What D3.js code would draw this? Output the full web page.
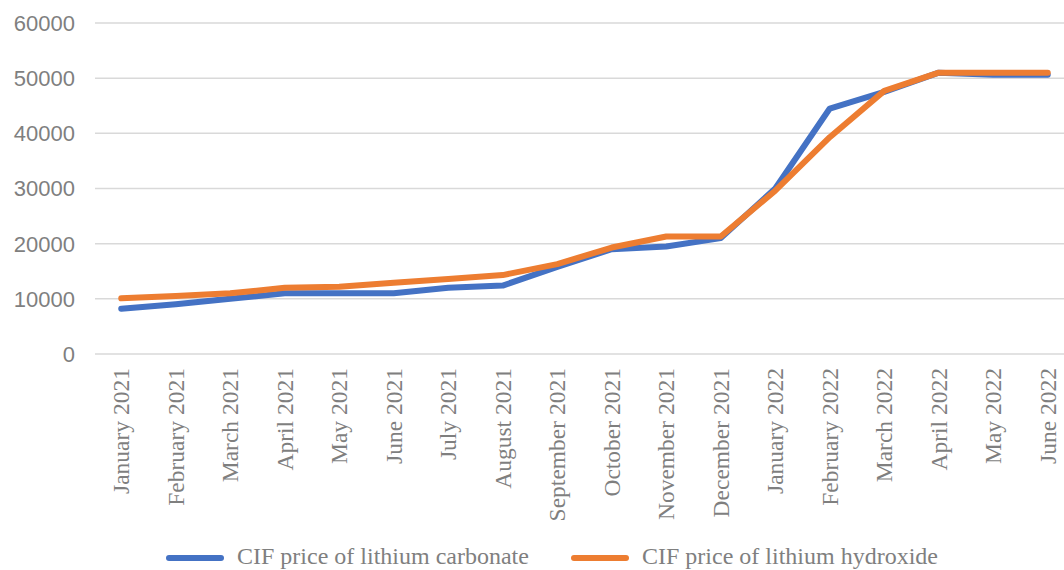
<!DOCTYPE html>
<html><head><meta charset="utf-8">
<script src="https://cdn.jsdelivr.net/npm/d3@7"></script>
<style>body{margin:0;background:#fff}svg{display:block}</style>
</head><body>
<svg id="chart" width="1064" height="570"></svg>
<script>
const categories = ["January 2021","February 2021","March 2021","April 2021","May 2021","June 2021","July 2021","August 2021","September 2021","October 2021","November 2021","December 2021","January 2022","February 2022","March 2022","April 2022","May 2022","June 2022"];
const carbonate = [8200,9000,10000,11000,11000,11000,12000,12400,15800,19000,19500,21000,30000,44500,47500,51000,50600,50600];
const hydroxide = [10100,10500,11000,12000,12200,12900,13600,14300,16300,19300,21300,21300,29600,39300,47700,51000,51000,51000];
const yTicks = [0,10000,20000,30000,40000,50000,60000];
const seriesNames = ["CIF price of lithium carbonate","CIF price of lithium hydroxide"];
const seriesColors = ["#4472C4","#ED7D31"];

const svg = d3.select("#chart");
const x = d3.scaleBand().domain(categories).range([94, 1075]);
const y = d3.scaleLinear().domain([0,60000]).range([354, 23]);

// gridlines
svg.append("g").selectAll("line").data(yTicks).join("line")
  .attr("x1",95).attr("x2",1064)
  .attr("y1",d=>y(d)).attr("y2",d=>y(d))
  .attr("stroke","#d9d9d9").attr("stroke-width",1.5);

// y labels
svg.append("g").selectAll("text").data(yTicks).join("text")
  .attr("x",75).attr("y",d=>y(d)).attr("dy","0.36em")
  .attr("text-anchor","end")
  .attr("font-family","'Liberation Sans', Arial, sans-serif")
  .attr("font-size",22).attr("fill","#7f7f7f")
  .text(d=>d);

// x labels
svg.append("g").selectAll("text").data(categories).join("text")
  .attr("transform",d=>`translate(${x(d)+x.bandwidth()/2+8},368) rotate(-90)`)
  .attr("text-anchor","end")
  .attr("font-family","'Liberation Serif', 'Times New Roman', serif")
  .attr("font-size",23.5).attr("fill","#7f7f7f")
  .text(d=>d);

const line = d3.line().x((d,i)=>x(categories[i])+x.bandwidth()/2).y(d=>y(d));
[carbonate, hydroxide].forEach((s,k)=>{
  svg.append("path").datum(s).attr("d",line)
    .attr("fill","none").attr("stroke",seriesColors[k]).attr("stroke-width",6)
    .attr("stroke-linejoin","round").attr("stroke-linecap","round");
});

// legend
const legX = [167, 572];
seriesNames.forEach((n,k)=>{
  const g = svg.append("g");
  g.append("line").attr("x1",legX[k]+2).attr("x2",legX[k]+54).attr("y1",558).attr("y2",558)
    .attr("stroke",seriesColors[k]).attr("stroke-width",6).attr("stroke-linecap","round");
  g.append("text").attr("x",legX[k]+70).attr("y",556).attr("dy","0.33em")
    .attr("font-family","'Liberation Serif', 'Times New Roman', serif")
    .attr("font-size",24).attr("fill","#7f7f7f").text(n);
});
</script>
</body></html>
